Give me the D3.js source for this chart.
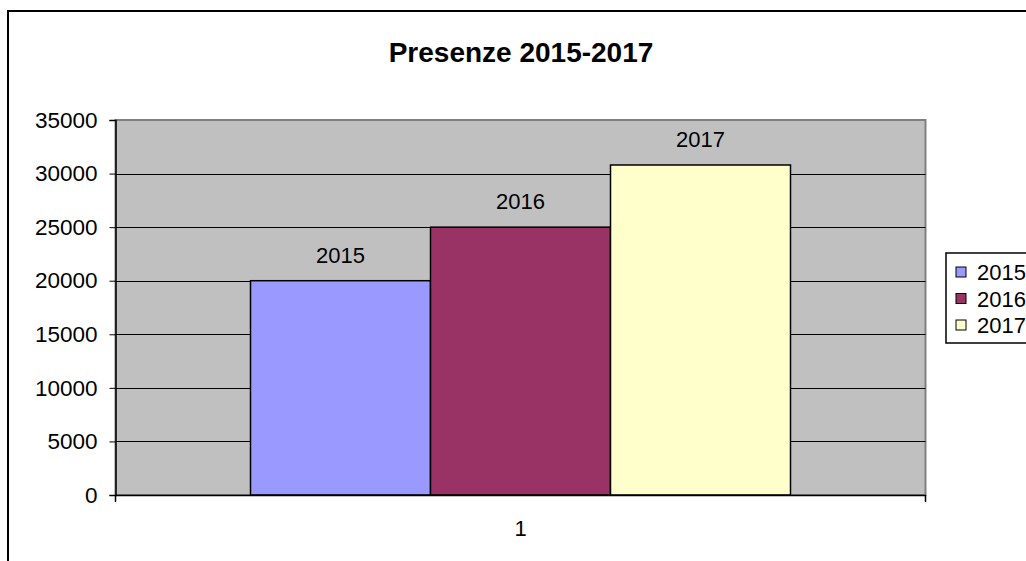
<!DOCTYPE html>
<html>
<head>
<meta charset="utf-8">
<script src="https://cdn.jsdelivr.net/npm/d3@7"></script>
<style>
  body { margin: 0; background: #fff; }
  text { font-family: "Liberation Sans", Arial, sans-serif; }
</style>
</head>
<body>
<svg id="chart"></svg>
<script>
// Data
const categories = ["1"];
const seriesNames = ["2015", "2016", "2017"];
const seriesValues = [20000, 25000, 30800];
const seriesColors = ["#9999FF", "#993366", "#FFFFCC"];
const yTicks = [0, 5000, 10000, 15000, 20000, 25000, 30000, 35000];

const width = 1026, height = 561;
const plot = { left: 115.5, right: 925.5, top: 120, bottom: 495 };

const svg = d3.select('#chart')
    .attr('width', width)
    .attr('height', height);

// outer chart border (runs off the right and bottom edges)
svg.append('rect')
    .attr('x', 8).attr('y', 11)
    .attr('width', 1100).attr('height', 600)
    .style('fill', '#fff')
    .style('stroke', '#000')
    .style('stroke-width', 2);

// title
svg.append('text')
    .attr('x', 521).attr('y', 62)
    .style('text-anchor', 'middle')
    .style('font-size', '28px')
    .style('font-weight', 'bold')
    .text('Presenze 2015-2017');

// scales
const yScale = d3.scaleLinear()
    .domain([0, 35000])
    .range([plot.bottom, plot.top]);

const xScale = d3.scaleBand()
    .domain(categories)
    .range([plot.left, plot.right]);

// gap width 150% of one bar -> bars take 3 / 4.5 of the band
const groupWidth = xScale.bandwidth() * 3 / 4.5;
const xInner = d3.scaleBand()
    .domain(seriesNames)
    .range([0, groupWidth]);

// plot area
svg.append('rect')
    .attr('x', plot.left).attr('y', plot.top)
    .attr('width', plot.right - plot.left)
    .attr('height', plot.bottom - plot.top)
    .style('fill', '#C0C0C0')
    .style('stroke', '#808080')
    .style('stroke-width', 2);

// gridlines
svg.selectAll('.grid')
    .data(yTicks.filter(d => d > 0 && d < 35000))
    .enter()
    .append('line')
    .attr('class', 'grid')
    .attr('x1', plot.left).attr('x2', plot.right)
    .attr('y1', d => Math.round(yScale(d)) + 0.5)
    .attr('y2', d => Math.round(yScale(d)) + 0.5)
    .style('stroke', '#000')
    .style('stroke-width', 1);

// y axis
const yAxis = d3.axisLeft(yScale)
    .tickValues(yTicks)
    .tickSize(6)
    .tickPadding(12)
    .tickFormat(d => d);

const yg = svg.append('g')
    .attr('transform', `translate(${plot.left}, 0)`)
    .call(yAxis);
yg.select('.domain').style('stroke', '#000').style('stroke-width', 1.5);
yg.selectAll('.tick line').style('stroke', '#000');
yg.selectAll('.tick text')
    .style('font-size', '22.5px')
    .style('font-family', '"Liberation Sans", Arial, sans-serif')
    .style('fill', '#000');

// bars
const groupLeft = xScale(categories[0]) + (xScale.bandwidth() - groupWidth) / 2;
const barData = seriesNames.map((s, i) => ({ name: s, value: seriesValues[i], color: seriesColors[i] }));

svg.selectAll('.bar')
    .data(barData)
    .enter()
    .append('rect')
    .attr('class', 'bar')
    .attr('x', d => groupLeft + xInner(d.name))
    .attr('y', d => yScale(d.value))
    .attr('width', xInner.bandwidth())
    .attr('height', d => plot.bottom - yScale(d.value))
    .style('fill', d => d.color)
    .style('stroke', '#000')
    .style('stroke-width', 1.5);

// data labels
svg.selectAll('.bar-label')
    .data(barData)
    .enter()
    .append('text')
    .attr('class', 'bar-label')
    .attr('x', d => groupLeft + xInner(d.name) + xInner.bandwidth() / 2)
    .attr('y', d => yScale(d.value) - 18)
    .style('text-anchor', 'middle')
    .style('font-size', '22px')
    .text(d => d.name);

// x axis
const xAxis = d3.axisBottom(xScale).tickSize(0).tickPadding(25);
const xg = svg.append('g')
    .attr('transform', `translate(0, ${plot.bottom})`)
    .call(xAxis);
xg.select('.domain').style('stroke', '#000').style('stroke-width', 1.5);
xg.selectAll('.tick text')
    .style('font-size', '22px')
    .style('font-family', '"Liberation Sans", Arial, sans-serif')
    .style('fill', '#000');

// tick marks at band boundaries
svg.selectAll('.xbound')
    .data([plot.left, plot.right])
    .enter()
    .append('line')
    .attr('x1', d => d).attr('x2', d => d)
    .attr('y1', plot.bottom).attr('y2', plot.bottom + 7)
    .style('stroke', '#000')
    .style('stroke-width', 1.5);

// legend
const legend = svg.append('g')
    .attr('transform', 'translate(946, 253)');

legend.append('rect')
    .attr('width', 200)
    .attr('height', 90)
    .style('fill', '#fff')
    .style('stroke', '#000')
    .style('stroke-width', 1.5);

const items = legend.selectAll('.legend-item')
    .data(barData)
    .enter()
    .append('g')
    .attr('class', 'legend-item')
    .attr('transform', (d, i) => `translate(10, ${19 + i * 26.5})`);

items.append('rect')
    .attr('x', 0).attr('y', -5)
    .attr('width', 10).attr('height', 10)
    .style('fill', d => d.color)
    .style('stroke', '#000')
    .style('stroke-width', 1);

items.append('text')
    .attr('x', 21)
    .attr('y', 8)
    .style('font-size', '22px')
    .text(d => d.name);
</script>
</body>
</html>
